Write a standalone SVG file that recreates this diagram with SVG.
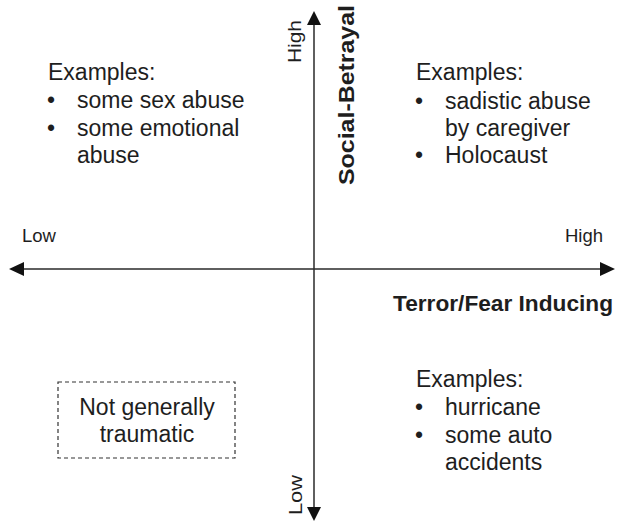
<svg xmlns="http://www.w3.org/2000/svg" width="618" height="522" viewBox="0 0 618 522">
<defs>
<style>
text{font-family:"Liberation Sans",Arial,sans-serif;fill:#1e1e1e;}
.t{font-size:23px;}
.s{font-size:18.5px;}
.b{font-size:22.5px;font-weight:bold;}
.axis{stroke:#2a2a2a;stroke-width:1.5;fill:none;}
.head{fill:#111;}
</style>
</defs>
<rect width="618" height="522" fill="#fff"/>
<g id="connectors">
<line class="axis" x1="314" y1="22" x2="314" y2="510"/>
<polygon class="head" points="314,11 307,25 321,25"/>
<polygon class="head" points="314,521 307,507 321,507"/>
<line class="axis" x1="22" y1="269" x2="603" y2="269"/>
<polygon class="head" points="9,269 24,262 24,276"/>
<polygon class="head" points="615,269 600,262 600,276"/>
</g>
<g id="axis-labels">
<text class="s" transform="translate(301,63) rotate(-90)" textLength="43" lengthAdjust="spacingAndGlyphs">High</text>
<text class="s" transform="translate(302,515) rotate(-90)" textLength="40" lengthAdjust="spacingAndGlyphs">Low</text>
<text class="b" transform="translate(354,185) rotate(-90)" textLength="180" lengthAdjust="spacingAndGlyphs">Social-Betrayal</text>
<text class="s" x="22" y="242">Low</text>
<text class="s" x="603" y="242" text-anchor="end">High</text>
<text class="b" x="393" y="311" textLength="220" lengthAdjust="spacingAndGlyphs">Terror/Fear Inducing</text>
</g>
<g id="top-left">
<text class="t" x="48" y="80">Examples:</text>
<text class="t" x="47" y="108">•</text>
<text class="t" x="77" y="108">some sex abuse</text>
<text class="t" x="47" y="136">•</text>
<text class="t" x="77" y="136">some emotional</text>
<text class="t" x="77" y="163">abuse</text>
</g>
<g id="top-right">
<text class="t" x="416" y="80">Examples:</text>
<text class="t" x="415" y="109">•</text>
<text class="t" x="445" y="109">sadistic abuse</text>
<text class="t" x="445" y="136">by caregiver</text>
<text class="t" x="415" y="163">•</text>
<text class="t" x="445" y="163">Holocaust</text>
</g>
<g id="bottom-right">
<text class="t" x="416" y="387">Examples:</text>
<text class="t" x="415" y="415">•</text>
<text class="t" x="445" y="415">hurricane</text>
<text class="t" x="415" y="443">•</text>
<text class="t" x="445" y="443">some auto</text>
<text class="t" x="445" y="470">accidents</text>
</g>
<g id="not-traumatic">
<rect x="58" y="382" width="177" height="76" fill="none" stroke="#333" stroke-width="1.2" stroke-dasharray="4 3"/>
<text class="t" x="147" y="415" text-anchor="middle">Not generally</text>
<text class="t" x="147" y="442" text-anchor="middle">traumatic</text>
</g>
</svg>
